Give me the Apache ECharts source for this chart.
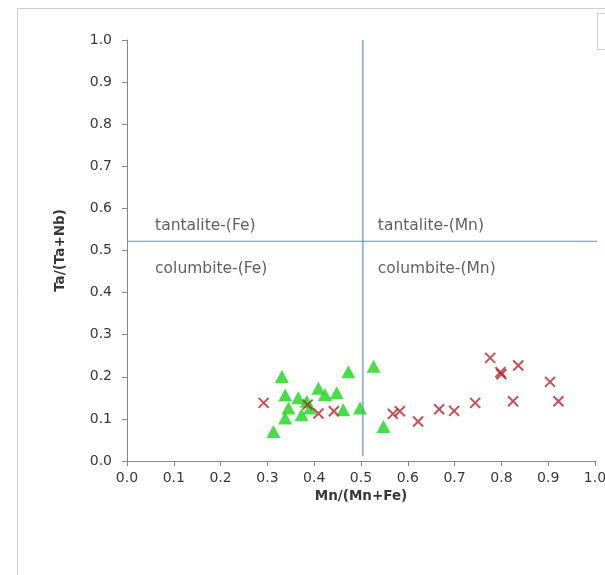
<!DOCTYPE html>
<html lang="en">

<head>
    <meta charset="UTF-8">
    <title>Ta/(Ta+Nb) vs Mn/(Mn+Fe)</title>
    <script src="https://cdn.jsdelivr.net/npm/echarts@6.0.0/dist/echarts.min.js"></script>
    <style>
        body {
            margin: 0;
            padding: 0;
            background: #fff;
        }

        #chart {
            width: 605px;
            height: 575px;
        }
    </style>
</head>

<body>
    <div id="chart"></div>

    <script>
        // 数据：[Mn/(Mn+Fe), Ta/(Ta+Nb)]
        var greenPoints = [
            [0.331, 0.201], [0.473, 0.212], [0.527, 0.225], [0.409, 0.173],
            [0.423, 0.158], [0.448, 0.162], [0.338, 0.157], [0.366, 0.150],
            [0.384, 0.142], [0.345, 0.126], [0.391, 0.126], [0.462, 0.122],
            [0.498, 0.126], [0.338, 0.102], [0.373, 0.110], [0.313, 0.070],
            [0.548, 0.082]
        ];
        var redPoints = [
            [0.292, 0.138], [0.386, 0.134], [0.409, 0.113], [0.442, 0.118],
            [0.568, 0.112], [0.583, 0.118], [0.622, 0.094], [0.667, 0.123],
            [0.699, 0.119], [0.744, 0.138], [0.776, 0.245], [0.798, 0.211],
            [0.800, 0.206], [0.836, 0.227], [0.825, 0.142], [0.904, 0.188],
            [0.922, 0.142]
        ];
        var hLine = [[0, 0.522], [1.005, 0.522]];
        var vLine = [[0.504, 0.012], [0.504, 1.0]];
        var regionLabels = [
            [0.06, 0.558, 'tantalite-(Fe)'],
            [0.06, 0.456, 'columbite-(Fe)'],
            [0.536, 0.558, 'tantalite-(Mn)'],
            [0.536, 0.456, 'columbite-(Mn)']
        ];
        var xTitle = 'Mn/(Mn+Fe)';
        var yTitle = 'Ta/(Ta+Nb)';

        var font = 'DejaVu Sans, Verdana, sans-serif';
        var textColor = '#383838';
        var lineColor = '#6b8cc4';
        var axisColor = '#868686';
        var crossPath = 'path://M0,0 L10,10 M10,0 L0,10';

        var myChart = echarts.init(document.getElementById('chart'));

        myChart.setOption({
            animation: false,
            grid: {
                left: 127,
                right: 10,
                top: 40,
                bottom: 114,
                outerBoundsMode: 'none'
            },
            graphic: [
                {
                    type: 'rect',
                    shape: { x: 17.5, y: 8.5, width: 600, height: 580 },
                    style: { fill: 'none', stroke: '#cfcfcf', lineWidth: 1 },
                    silent: true
                },
                {
                    type: 'rect',
                    shape: { x: 597.5, y: 13.5, width: 20, height: 36 },
                    style: { fill: '#fff', stroke: '#cfcfcf', lineWidth: 1 },
                    silent: true
                }
            ],
            xAxis: {
                type: 'value',
                min: 0,
                max: 1,
                interval: 0.1,
                name: xTitle,
                nameLocation: 'middle',
                nameGap: 25,
                nameTextStyle: { fontFamily: font, fontSize: 13.5, fontWeight: 'bold', color: textColor },
                axisLine: { show: true, lineStyle: { color: axisColor, width: 1 } },
                axisTick: { show: true, length: 5, lineStyle: { color: axisColor } },
                axisLabel: {
                    margin: 10,
                    fontFamily: font,
                    fontSize: 14,
                    color: textColor,
                    formatter: function (v) { return v.toFixed(1); }
                },
                splitLine: { show: false }
            },
            yAxis: {
                type: 'value',
                min: 0,
                max: 1,
                interval: 0.1,
                name: yTitle,
                nameLocation: 'middle',
                nameGap: 60,
                nameTextStyle: { fontFamily: font, fontSize: 13.5, fontWeight: 'bold', color: textColor },
                axisLine: { show: true, lineStyle: { color: axisColor, width: 1 } },
                axisTick: { show: true, length: 5, lineStyle: { color: axisColor } },
                axisLabel: {
                    margin: 15,
                    fontFamily: font,
                    fontSize: 14,
                    color: textColor,
                    formatter: function (v) { return v.toFixed(1); }
                },
                splitLine: { show: false }
            },
            series: [
                {
                    type: 'line',
                    data: hLine,
                    symbol: 'none',
                    clip: false,
                    lineStyle: { color: lineColor, width: 1.2 },
                    silent: true
                },
                {
                    type: 'line',
                    data: vLine,
                    symbol: 'none',
                    lineStyle: { color: lineColor, width: 1.2 },
                    silent: true
                },
                {
                    type: 'scatter',
                    data: regionLabels,
                    symbolSize: 0,
                    label: {
                        show: true,
                        position: 'right',
                        distance: 0,
                        fontFamily: font,
                        fontSize: 15.5,
                        color: textColor,
                        formatter: function (p) { return p.data[2]; }
                    },
                    silent: true
                },
                {
                    type: 'scatter',
                    data: greenPoints,
                    symbol: 'triangle',
                    symbolSize: [14, 13],
                    itemStyle: { color: '#1ed31e' }
                },
                {
                    type: 'scatter',
                    data: redPoints,
                    symbol: crossPath,
                    symbolSize: 10,
                    itemStyle: { color: 'none', borderColor: '#b3262e', borderWidth: 2 }
                }
            ]
        });
    </script>
</body>

</html>
